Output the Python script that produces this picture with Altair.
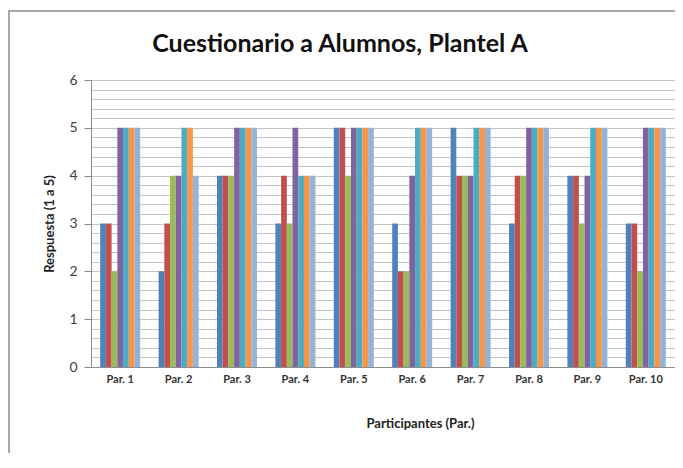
import altair as alt
import pandas as pd

participants = ["Par. 1", "Par. 2", "Par. 3", "Par. 4", "Par. 5",
                "Par. 6", "Par. 7", "Par. 8", "Par. 9", "Par. 10"]
series = ["Pregunta 1", "Pregunta 2", "Pregunta 3", "Pregunta 4",
          "Pregunta 5", "Pregunta 6", "Pregunta 7"]
colors = ["#4F81BD", "#C0504D", "#9BBB59", "#8064A2", "#4BACC6", "#F79646", "#95B3D7"]

# values per series (one entry per participant)
p1 = [3, 2, 4, 3, 5, 3, 5, 3, 4, 3]
p2 = [3, 3, 4, 4, 5, 2, 4, 4, 4, 3]
p3 = [2, 4, 4, 3, 4, 2, 4, 4, 3, 2]
p4 = [5, 4, 5, 5, 5, 4, 4, 5, 4, 5]
p5 = [5, 5, 5, 4, 5, 5, 5, 5, 5, 5]
p6 = [5, 5, 5, 4, 5, 5, 5, 5, 5, 5]
p7 = [5, 4, 5, 4, 5, 5, 5, 5, 5, 5]
all_series = [p1, p2, p3, p4, p5, p6, p7]

grid_values = [i / 5 for i in range(31)]
title_text = "Cuestionario a Alumnos, Plantel A"

rows = []
for s, vals in zip(series, all_series):
    for p, v in zip(participants, vals):
        rows.append({"Participante": p, "Serie": s, "Respuesta": v})
df = pd.DataFrame(rows)

font = "Lato"
one = pd.DataFrame({"a": [0]})

bars = alt.Chart(df).mark_bar().encode(
    x=alt.X("Participante:N", sort=participants,
            scale=alt.Scale(paddingInner=0.315, paddingOuter=0.1575),
            axis=alt.Axis(title="Participantes (Par.)", labelAngle=0, ticks=False,
                          labelPadding=6, labelFontSize=11, labelFontWeight="bold",
                          labelColor="#333333", labelFont=font,
                          domainColor="#8C8C8C", titleFont=font, titleFontSize=13,
                          titleFontWeight="bold", titleColor="#222222",
                          titlePadding=33, titleX=329, grid=False)),
    xOffset=alt.XOffset("Serie:N", sort=series,
                        scale=alt.Scale(paddingInner=0, paddingOuter=0)),
    y=alt.Y("Respuesta:Q",
            scale=alt.Scale(domain=[0, 6], nice=False),
            axis=alt.Axis(title="Respuesta (1 a 5)", values=grid_values,
                          labelExpr="datum.value % 1 == 0 ? format(datum.value, 'd') : ''",
                          tickOpacity={"condition": {"test": "datum.value % 1 == 0", "value": 1}, "value": 0},
                          tickSize=7, tickColor="#8C8C8C", labelPadding=7,
                          labelFontSize=14, labelColor="#404040", labelFont=font,
                          domainColor="#8C8C8C", gridColor="#C4C4C4", gridWidth=1,
                          titleFont=font, titleFontSize=13, titleFontWeight="bold",
                          titleColor="#222222", titlePadding=12)),
    color=alt.Color("Serie:N", sort=series,
                    scale=alt.Scale(domain=series, range=colors), legend=None),
)

frame = alt.Chart(one).mark_rect(
    fill="transparent", stroke="#8C8C8C", strokeWidth=1.5
).encode(
    x=alt.value(-82), x2=alt.value(590),
    y=alt.value(-69), y2=alt.value(380),
)

title = alt.Chart(one).mark_text(
    text=title_text, font=font, fontSize=25, fontWeight="bold", color="#111111",
    align="center", baseline="alphabetic"
).encode(x=alt.value(249), y=alt.value(-28))

chart = alt.layer(frame, bars, title).properties(
    width=584, height=287,
    autosize=alt.AutoSizeParams(type="none"),
    padding={"left": 83, "top": 72, "right": 0, "bottom": 86},
).configure_view(stroke="transparent")

chart.save("out.html", embed_options={"renderer": "svg", "actions": False})
